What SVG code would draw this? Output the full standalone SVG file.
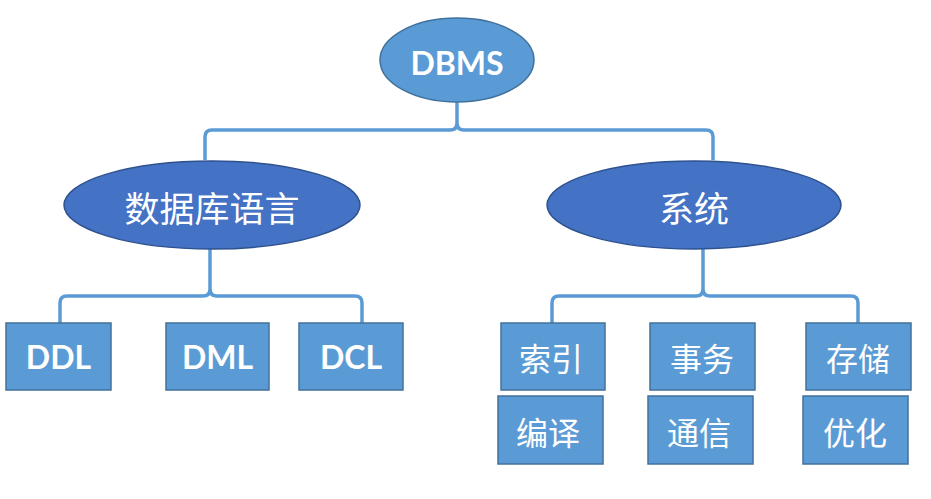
<svg xmlns="http://www.w3.org/2000/svg" width="931" height="499" viewBox="0 0 931 499">
<style>
.lt{fill:#5B9BD5;stroke:#41719C;stroke-width:1.5}
.dk{fill:#4472C4;stroke:#2F528F;stroke-width:1.5}
.en{font-family:Lato,"Open Sans","Liberation Sans",sans-serif;font-weight:bold;font-size:32px;fill:#fff;text-anchor:middle}
.cn{font-family:"Noto Sans CJK SC",sans-serif;fill:#fff;text-anchor:middle;dominant-baseline:central}
.c{fill:none;stroke:#5B9BD5;stroke-width:3.5;stroke-linejoin:round}
</style>
<rect width="931" height="499" fill="#fff"/>
<g id="connectors">
<path class="c" d="M205,160 V137 Q205,130 212,130 H450 Q457,130 457,123 V102 M457,123 Q457,130 464,130 H706 Q713,130 713,137 V160"/>
<path class="c" d="M60,323 V303 Q60,296 67,296 H203 Q210,296 210,289 V249 M210,289 Q210,296 217,296 H355 Q362,296 362,303 V323"/>
<path class="c" d="M552,323 V303 Q552,296 559,296 H696 Q703,296 703,289 V249 M703,289 Q703,296 710,296 H851 Q858,296 858,303 V323"/>
</g>
<g id="dbms"><ellipse class="lt" cx="457" cy="60" rx="77" ry="42"/><text class="en" x="457" y="75">DBMS</text></g>
<g id="lang"><ellipse class="dk" cx="212" cy="205" rx="148" ry="44"/><text class="cn" x="212" y="206" font-size="35">数据库语言</text></g>
<g id="sys"><ellipse class="dk" cx="694" cy="205" rx="147" ry="44"/><text class="cn" x="694" y="206" font-size="35">系统</text></g>
<g id="ddl"><rect class="lt" x="6" y="323" width="105" height="67"/><text class="en" x="58.5" y="369">DDL</text></g>
<g id="dml"><rect class="lt" x="166" y="323" width="103" height="67"/><text class="en" x="217.5" y="369">DML</text></g>
<g id="dcl"><rect class="lt" x="299" y="323" width="104" height="67"/><text class="en" x="351" y="369">DCL</text></g>
<g id="suoyin"><rect class="lt" x="501" y="323" width="104" height="67"/><text class="cn" x="551" y="357" font-size="32">索引</text></g>
<g id="bianyi"><rect class="lt" x="498" y="396" width="105" height="68"/><text class="cn" x="548" y="431" font-size="32">编译</text></g>
<g id="shiwu"><rect class="lt" x="650" y="323" width="105" height="67"/><text class="cn" x="702" y="357" font-size="32">事务</text></g>
<g id="tongxin"><rect class="lt" x="648" y="396" width="105" height="68"/><text class="cn" x="699" y="431" font-size="32">通信</text></g>
<g id="cunchu"><rect class="lt" x="806" y="323" width="105" height="67"/><text class="cn" x="858" y="357" font-size="32">存储</text></g>
<g id="youhua"><rect class="lt" x="803" y="396" width="105" height="68"/><text class="cn" x="855" y="431" font-size="32">优化</text></g>
</svg>
